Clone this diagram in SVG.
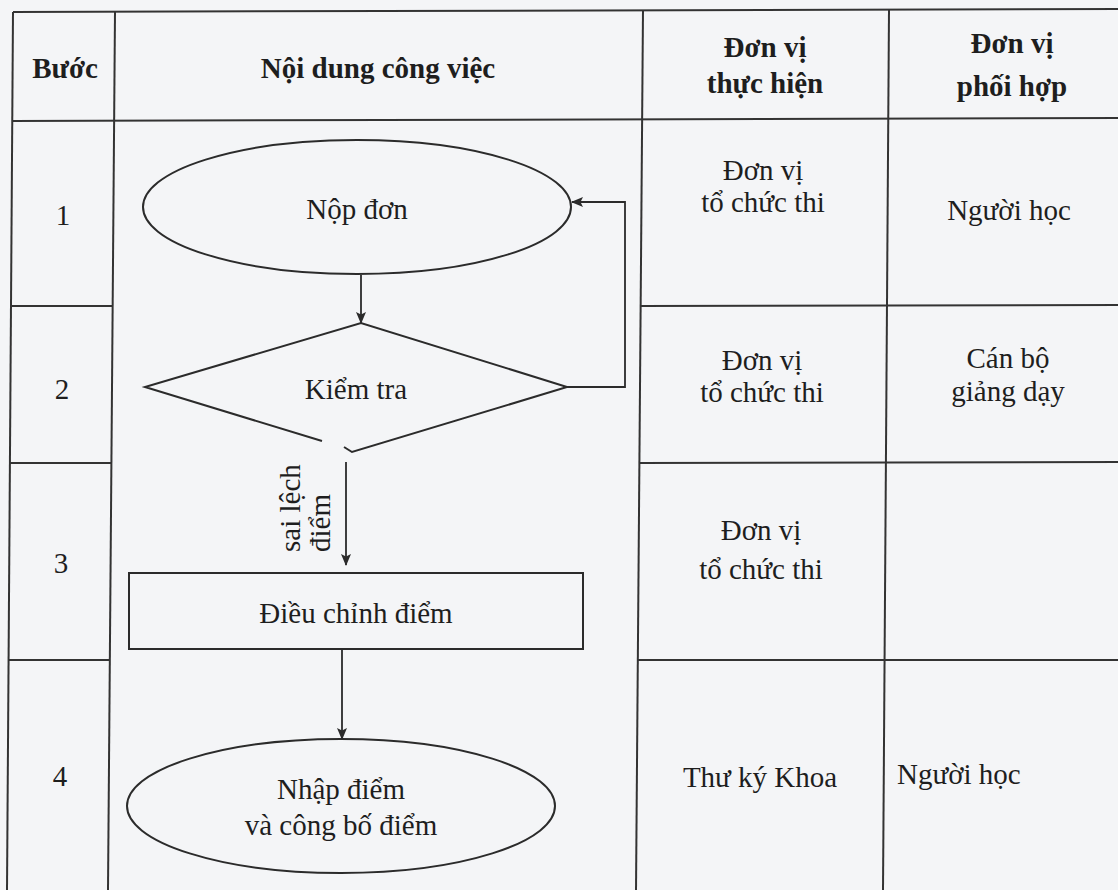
<svg xmlns="http://www.w3.org/2000/svg" width="1118" height="890" viewBox="0 0 1118 890">
  <style>
    .grid { stroke: #333; stroke-width: 2; fill: none; }
    .shape { stroke: #2b2b2b; stroke-width: 2; fill: none; }
    .conn { stroke: #2b2b2b; stroke-width: 1.8; fill: none; }
    text { font-family: "Liberation Serif", "Times New Roman", serif; font-size: 29px; fill: #1e1e1e; }
    .hd { font-weight: bold; }
    .c { text-anchor: middle; }
  </style>
  <defs>
    <marker id="arr" viewBox="0 0 12 12" refX="11" refY="6" markerWidth="12" markerHeight="12" markerUnits="userSpaceOnUse" orient="auto">
      <path d="M0,1 L12,6 L0,11 L2.5,6 Z" fill="#2b2b2b"/>
    </marker>
  </defs>
  <rect x="0" y="0" width="1118" height="890" fill="#f4f5f7"/>

  <g id="table-grid">
    <line class="grid" x1="13" y1="12" x2="1118" y2="9"/>
    <line class="grid" x1="12" y1="121" x2="1118" y2="118"/>
    <line class="grid" x1="13" y1="12" x2="7" y2="890"/>
    <line class="grid" x1="115" y1="12" x2="108" y2="890"/>
    <line class="grid" x1="643" y1="10" x2="636" y2="890"/>
    <line class="grid" x1="889" y1="10" x2="883" y2="890"/>
    <line class="grid" x1="11" y1="306" x2="113" y2="306"/>
    <line class="grid" x1="10" y1="463" x2="112" y2="463"/>
    <line class="grid" x1="9" y1="660" x2="110" y2="660"/>
    <line class="grid" x1="641" y1="306" x2="1118" y2="305"/>
    <line class="grid" x1="639" y1="463" x2="1118" y2="462"/>
    <line class="grid" x1="638" y1="660" x2="1118" y2="660"/>
  </g>

  <g id="header">
    <text class="hd c" x="65" y="78">Bước</text>
    <text class="hd c" x="378" y="78">Nội dung công việc</text>
    <text class="hd c" x="765" y="57">Đơn vị</text>
    <text class="hd c" x="765" y="93">thực hiện</text>
    <text class="hd c" x="1012" y="53">Đơn vị</text>
    <text class="hd c" x="1012" y="96">phối hợp</text>
  </g>

  <g id="steps">
    <text class="c" x="63" y="225">1</text>
    <text class="c" x="62" y="399">2</text>
    <text class="c" x="61" y="573">3</text>
    <text class="c" x="60" y="786">4</text>
  </g>

  <g id="cells">
    <text class="c" x="763" y="180">Đơn vị</text>
    <text class="c" x="763" y="212">tổ chức thi</text>
    <text class="c" x="1009" y="220">Người học</text>
    <text class="c" x="762" y="370">Đơn vị</text>
    <text class="c" x="762" y="402">tổ chức thi</text>
    <text class="c" x="1008" y="368">Cán bộ</text>
    <text class="c" x="1008" y="401">giảng dạy</text>
    <text class="c" x="761" y="540">Đơn vị</text>
    <text class="c" x="761" y="579">tổ chức thi</text>
    <text class="c" x="760" y="787">Thư ký Khoa</text>
    <text x="897" y="784">Người học</text>
  </g>

  <g id="node-nop-don">
    <ellipse class="shape" cx="357" cy="207" rx="214" ry="67"/>
    <text class="c" x="357" y="219">Nộp đơn</text>
  </g>

  <g id="node-kiem-tra">
    <path class="shape" d="M322,441 L145,387 L361,323 L567,387 L352,452 L344,447"/>
    <text class="c" x="356" y="399">Kiểm tra</text>
  </g>

  <g id="node-dieu-chinh">
    <rect class="shape" x="129" y="573" width="454" height="76"/>
    <text class="c" x="356" y="623">Điều chỉnh điểm</text>
  </g>

  <g id="node-nhap-diem">
    <ellipse class="shape" cx="341" cy="806" rx="214" ry="67"/>
    <text class="c" x="341" y="799">Nhập điểm</text>
    <text class="c" x="341" y="835">và công bố điểm</text>
  </g>

  <g id="connectors">
    <line class="conn" x1="361" y1="275" x2="361" y2="323" marker-end="url(#arr)"/>
    <line class="conn" x1="346" y1="462" x2="346" y2="565" marker-end="url(#arr)"/>
    <line class="conn" x1="342" y1="649" x2="342" y2="739" marker-end="url(#arr)"/>
    <polyline class="conn" points="567,387 625,387 625,202 572,202" marker-end="url(#arr)"/>
    <text transform="translate(300,552) rotate(-90)" font-size="28">sai lệch</text>
    <text transform="translate(330,552) rotate(-90)" font-size="28">điểm</text>
  </g>
</svg>
